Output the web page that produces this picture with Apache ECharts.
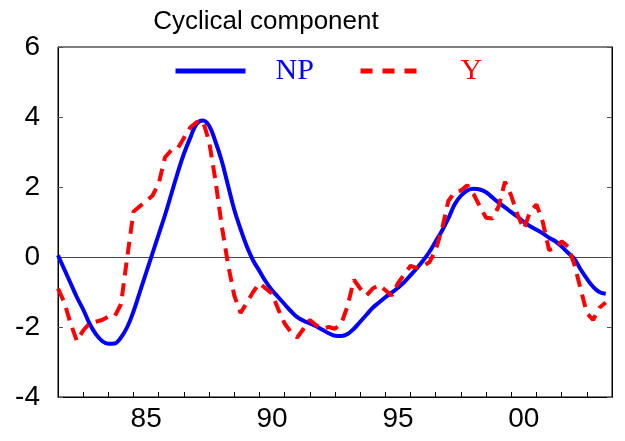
<!DOCTYPE html>
<html>
<head>
<meta charset="utf-8">
<script src="https://cdn.jsdelivr.net/npm/echarts@6/dist/echarts.min.js"></script>
<style>
html, body { margin: 0; padding: 0; background: #fff; }
#chart { width: 625px; height: 441px; }
</style>
</head>
<body>
<div id="chart"></div>
<script>
// quarterly, first observation 1982Q1
var startYear = 1982;
var np = [
	0.05, -0.35, -0.75, -1.15, -1.5, -1.9, -2.2, -2.4, -2.48, -2.47,
	-2.3, -2.0, -1.55, -1.0, -0.45, 0.1, 0.65, 1.2, 1.8, 2.4,
	2.95, 3.4, 3.8, 3.9, 3.75, 3.3, 2.75, 2.05, 1.35, 0.8,
	0.3, -0.1, -0.4, -0.7, -0.95, -1.15, -1.35, -1.55, -1.72, -1.82,
	-1.9, -1.98, -2.08, -2.18, -2.25, -2.26, -2.2, -2.05, -1.85, -1.65,
	-1.45, -1.3, -1.15, -1.02, -0.88, -0.72, -0.52, -0.32, -0.1, 0.15,
	0.45, 0.75, 1.1, 1.5, 1.75, 1.9, 1.95, 1.93, 1.85, 1.7,
	1.55, 1.42, 1.28, 1.15, 1.0, 0.88, 0.78, 0.68, 0.55, 0.45,
	0.3, 0.12, -0.05, -0.35, -0.62, -0.85, -1.0, -1.05
];
var y = [
	-0.9, -1.3, -1.9, -2.4, -2.1, -1.9, -1.85, -1.8, -1.7, -1.7,
	-1.35, 0.0, 1.3, 1.45, 1.6, 1.75, 2.1, 2.85, 3.05, 3.1,
	3.4, 3.7, 3.85, 3.9, 3.3, 2.2, 0.9, -0.2, -1.1, -1.6,
	-1.3, -1.0, -0.75, -0.9, -1.05, -1.5, -1.9, -2.15, -2.3, -2.05,
	-1.8, -1.95, -2.05, -2.0, -2.05, -1.9, -1.4, -0.65, -0.9, -1.1,
	-0.9, -0.8, -0.95, -1.1, -0.75, -0.5, -0.25, -0.32, -0.25, -0.15,
	0.2, 0.8, 1.6, 1.85, 1.9, 2.05, 1.8, 1.45, 1.12, 1.1,
	1.45, 2.15, 1.75, 1.2, 0.8, 1.3, 1.5, 1.0, 0.2, 0.25,
	0.45, 0.3, -0.2, -0.9, -1.6, -1.8, -1.45, -1.3
];
var labelYears = [1985, 1990, 1995, 2000];
var yearLabels = ['85', '90', '95', '00'];

function toPairs(arr) {
	return arr.map(function (v, i) { return [startYear + i / 4, v]; });
}

var chart = echarts.init(document.getElementById('chart'));
var sans = 'Liberation Sans, Arial, sans-serif';
var serif = 'Liberation Serif, Times New Roman, serif';

var option = {
	animation: false,
	title: {
		text: 'Cyclical component',
		left: 266,
		textAlign: 'center',
		top: 9,
		padding: 0,
		textStyle: { fontFamily: sans, fontSize: 26, fontWeight: 'normal', color: '#000' }
	},
	legend: [{
		data: ['NP'],
		left: 173,
		top: 56,
		padding: 0,
		itemWidth: 70,
		itemHeight: 14,
		itemStyle: { opacity: 0 },
		lineStyle: { width: 5 },
		textStyle: { color: '#0000ff', fontFamily: serif, fontSize: 30, padding: [0, 0, 0, 25] }
	}, {
		data: ['Y'],
		left: 358,
		top: 56,
		padding: 0,
		itemWidth: 59,
		itemHeight: 14,
		itemStyle: { opacity: 0 },
		lineStyle: { width: 5, type: [12, 10] },
		textStyle: { color: '#ff0000', fontFamily: serif, fontSize: 30, padding: [0, 0, 0, 36] }
	}],
	grid: {
		left: 58,
		right: 13,
		top: 47,
		bottom: 44,
		show: true,
		borderColor: '#000',
		borderWidth: 1
	},
	xAxis: [{
		// main axis, yearly ticks
		type: 'value',
		min: 1982,
		max: 2004,
		interval: 1,
		position: 'bottom',
		axisLine: { onZero: false, lineStyle: { color: '#000', width: 1 } },
		axisTick: { inside: true, length: 5, lineStyle: { color: '#000' } },
		axisLabel: { show: false },
		splitLine: { show: false }
	}, {
		// labels sit between the yearly ticks
		type: 'value',
		min: 1981.5,
		max: 2003.5,
		interval: 0.5,
		position: 'bottom',
		axisLine: { show: false, onZero: false },
		axisTick: { show: false },
		splitLine: { show: false },
		axisLabel: {
			margin: 8,
			fontFamily: sans,
			fontSize: 28,
			color: '#000',
			formatter: function (v) {
				var k = labelYears.indexOf(Math.round(v * 2) / 2);
				return k >= 0 ? yearLabels[k] : '';
			}
		}
	}, {
		// zero line
		type: 'value',
		min: 1982,
		max: 2004,
		position: 'bottom',
		axisLine: { onZero: true, lineStyle: { color: '#444', width: 1 } },
		axisTick: { show: false },
		axisLabel: { show: false },
		splitLine: { show: false }
	}],
	yAxis: [{
		type: 'value',
		min: -4,
		max: 6,
		interval: 2,
		position: 'left',
		axisLine: { show: true, lineStyle: { color: '#000' } },
		axisTick: { inside: true, length: 5, lineStyle: { color: '#555' } },
		axisLabel: { margin: 18, fontFamily: sans, fontSize: 28, color: '#000' },
		splitLine: { show: false }
	}, {
		type: 'value',
		min: -4,
		max: 6,
		interval: 2,
		position: 'right',
		axisLine: { show: true, lineStyle: { color: '#000' } },
		axisTick: { inside: true, length: 5, lineStyle: { color: '#555' } },
		axisLabel: { show: false },
		splitLine: { show: false }
	}],
	series: [{
		name: 'NP',
		type: 'line',
		xAxisIndex: 0,
		yAxisIndex: 0,
		data: toPairs(np),
		smooth: 0.4,
		symbol: 'none',
		color: '#0000ff',
		lineStyle: { color: '#0000ff', width: 4 }
	}, {
		name: 'Y',
		type: 'line',
		xAxisIndex: 0,
		yAxisIndex: 0,
		data: toPairs(y),
		symbol: 'none',
		color: '#ff0000',
		lineStyle: { color: '#ff0000', width: 4, type: [13, 8] }
	}]
};
chart.setOption(option);
</script>
</body>
</html>
